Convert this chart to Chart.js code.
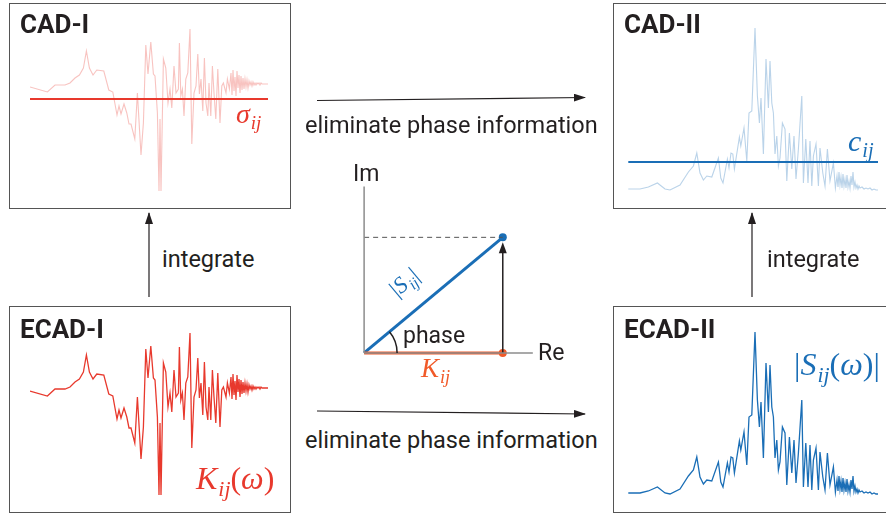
<!DOCTYPE html>
<html>
<head>
<meta charset="utf-8">
<script src="https://cdn.jsdelivr.net/npm/chart.js@4.4.1/dist/chart.umd.min.js"></script>
<style>
  body { margin: 0; background: #fff; }
  #page { position: relative; width: 886px; height: 516px; overflow: hidden; font-family: Roboto, sans-serif; color: #231f20; }
  .box { position: absolute; border: 1.5px solid #555; box-sizing: border-box; }
  .title { position: absolute; font-weight: 700; font-size: 26px; line-height: 1; }
  .plot { position: absolute; }
  .txt { position: absolute; font-size: 23.5px; line-height: 1; white-space: nowrap; }
  .math { position: absolute; font-family: "Liberation Serif", serif; font-style: italic; line-height: 1; white-space: nowrap; }
  .math sub { font-size: 68%; vertical-align: -0.3em; margin-left: 1px; }
  .up { font-style: normal; }
  svg { position: absolute; left: 0; top: 0; }
</style>
</head>
<body>
<div id="page">
  <div class="box" style="left:9px;top:3px;width:282px;height:206px"></div>
  <div class="box" style="left:9px;top:306px;width:282px;height:207px"></div>
  <div class="box" style="left:613px;top:3px;width:290px;height:206px"></div>
  <div class="box" style="left:613px;top:306px;width:290px;height:207px"></div>

  <canvas class="plot" id="cad1" width="240" height="205" style="left:30px;top:3px"></canvas>
  <canvas class="plot" id="ecad1" width="240" height="205" style="left:30px;top:307px"></canvas>
  <canvas class="plot" id="cad2" width="258" height="205" style="left:628px;top:3px"></canvas>
  <canvas class="plot" id="ecad2" width="258" height="205" style="left:628px;top:307px"></canvas>
  <canvas class="plot" id="phasor" width="208" height="208" style="left:341px;top:168px"></canvas>

  <div class="title" style="left:20px;top:11px">CAD-I</div>
  <div class="title" style="left:20px;top:316px">ECAD-I</div>
  <div class="title" style="left:624px;top:11px">CAD-II</div>
  <div class="title" style="left:624px;top:316px">ECAD-II</div>

  <div class="math" style="left:236px;top:100px;font-size:28px;color:#e8392d">σ<sub>ij</sub></div>
  <div class="math" style="left:196px;top:462px;font-size:32px;color:#e8392d">K<sub>ij</sub><span class="up">(</span>ω<span class="up">)</span></div>
  <div class="math" style="left:848px;top:126px;font-size:30px;color:#1a6eb6">c<sub>ij</sub></div>
  <div class="math" style="left:794px;top:348px;font-size:32px;color:#1a6eb6"><span class="up">|</span>S<sub>ij</sub><span class="up">(</span>ω<span class="up">)|</span></div>

  <div class="txt" style="left:305px;top:114px">eliminate phase information</div>
  <div class="txt" style="left:305px;top:429px">eliminate phase information</div>
  <div class="txt" style="left:162px;top:248px">integrate</div>
  <div class="txt" style="left:767px;top:248px">integrate</div>

  <div class="txt" style="left:353px;top:162px;font-size:23px">Im</div>
  <div class="txt" style="left:538px;top:341px;font-size:23px">Re</div>
  <div class="txt" style="left:403px;top:324px;font-size:23px">phase</div>
  <div class="math" style="left:421px;top:355px;font-size:27px;color:#f15a29">K<sub>ij</sub></div>
  <div class="math" style="left:390px;top:270px;font-size:23px;color:#1a6eb6;transform:rotate(-40deg);transform-origin:center"><span class="up">|</span>S<sub>ij</sub><span class="up">|</span></div>

  <svg width="886" height="516">
    <defs>
      <marker id="ah" viewBox="0 0 12 8" refX="11" refY="4" markerWidth="12" markerHeight="8" markerUnits="userSpaceOnUse" orient="auto">
        <path d="M0,0 L12,4 L0,8 z" fill="#231f20"/>
      </marker>
    </defs>
    <g stroke="#231f20" stroke-width="1.2" fill="none">
      <line x1="317" y1="100.5" x2="585" y2="97.5" marker-end="url(#ah)"/>
      <line x1="317" y1="411" x2="585" y2="414" marker-end="url(#ah)"/>
      <line x1="149" y1="297" x2="149" y2="213" marker-end="url(#ah)"/>
      <line x1="752" y1="297" x2="752" y2="213" marker-end="url(#ah)"/>
    </g>
  </svg>
</div>

<script>
// ECAD-I : real part K_ij(w)
const freqK = [0, 8.7, 12.5, 17.5, 20, 22.5, 24.7, 26.7, 28.2, 29.7, 31.5, 33.4, 36.9, 39.4, 41.4, 43.5, 44.5, 45.5, 47, 48.4,
  49.5, 50.5, 52.4, 53.7, 55.5, 56.7, 57.9, 59, 60.4, 61.7, 62.5, 63.7, 64.5, 65, 65.5, 66.7, 67.9, 69, 70, 70.9,
  72, 73, 74.2, 74.7, 75.4, 76.2, 77, 77.9, 78.9, 80, 80.9, 82, 83, 83.9, 84.7, 85.5, 86.4, 87.2, 88, 88.9,
  89.5, 90.4, 91.2, 92, 92.9, 93.9, 95, 95.9, 96.7, 98, 98.7, 99.7,
  100.5, 101, 101.5, 102, 102.5, 103, 103.5, 104, 104.5, 105, 105.5, 106, 106.5, 107, 107.5, 108, 108.5, 109,
  109.5, 110, 110.5, 111, 111.5, 112, 112.5, 113, 113.5, 114, 114.5, 115, 115.5, 116, 116.5, 117, 118, 119];
const kij = [-0.2, -0.7, 0.0, 0.0, 0.2, 0.7, 1.0, 1.7, 3.4, 1.7, 1.0, 1.5, 1.4, -0.5, -0.7, -3.0, -2.1, -2.9, -1.9, -2.8,
  -3.9, -3.9, -5.4, -0.8, -7.0, -3.8, 4.0, 1.1, 4.3, 1.1, 0.9, -2.8, -10.6, -3.4, -10.6, 2.6, 1.7, -1.8, -0.4, -2.3,
  1.9, -0.8, -0.4, 4.2, -1.1, -0.4, -3.1, 0.6, 1.2, 5.6, -5.9, -0.8, -0.1, 3.1, -0.9, 0.6, -2.6, 2.7, -1.8, -3.1,
  0.2, -3.1, 1.9, -0.8, -3.4, 1.6, -3.8, -0.1, 0.2, -0.8, 0.6, -0.4,
  1.2, -1.0, 1.5, -0.6, 0.8, -1.1, 1.4, -0.3, 1.0, -0.8, 0.9, -0.5, 0.7, -0.4, 0.6, -0.2, 0.5, -0.3,
  0.4, 0.0, 0.3, -0.1, 0.3, 0.0, 0.2, 0.0, 0.2, 0.1, 0.2, 0.0, 0.2, 0.1, 0.1, 0.1, 0.1, 0.1];
const sigmaIJ = -1.4;

// ECAD-II : magnitude |S_ij(w)|
const freqS = [0.15, 6, 10.2, 14.7, 18.5, 21, 26, 30.2, 32.7, 34.4, 36, 37.7, 39.4, 41.9, 45.2, 46.4, 47.5, 49.7, 50.5, 51.5,
  52.4, 53.2, 55.7, 56.4, 58, 59.4, 60.5, 61.9, 63.5, 64.7, 65.7, 66.5, 67.7, 69, 70.2, 71, 71.9, 72.7, 73.5, 74.4,
  75.2, 76, 77.2, 78.5, 79.4, 80.7, 81.9, 83, 84, 85.2, 86, 86.9, 87.7, 88.9, 90, 91, 91.9, 92.7, 94, 95.2,
  96, 97.4, 98.5, 99.7, 101, 102.7, 103.7,
  104.5, 105, 105.5, 106, 106.5, 107, 107.5, 108, 108.5, 109, 109.5, 110, 110.5, 111, 111.5, 112, 112.5, 113,
  113.5, 114, 114.5, 115, 115.5, 116, 117, 118, 119, 120, 121, 122, 123, 124, 125];
const sij = [0.2, 0.2, 0.4, 0.8, 0.2, 0.1, 0.6, 1.9, 2.5, 3.8, 1.8, 1.1, 1.5, 1.4, 3.3, 1.3, 0.8, 3.2, 2.3, 3.8,
  3.7, 2.2, 5.4, 4.5, 6.3, 3.0, 7.8, 8.0, 16.3, 9.5, 6.8, 9.3, 3.7, 13.2, 8.3, 13.0, 8.8, 7.8, 3.7, 5.5,
  2.5, 3.3, 6.8, 6.2, 1.0, 5.8, 2.2, 5.5, 1.2, 4.2, 6.7, 9.5, 0.8, 5.2, 0.8, 5.0, 0.5, 3.5, 4.7, 0.5,
  4.3, 1.8, 0.5, 4.2, 1.0, 2.8, 0.3,
  1.5, 0.4, 1.9, 0.6, 1.4, 0.3, 1.7, 0.5, 1.2, 0.3, 1.6, 0.4, 1.0, 0.3, 1.5, 0.6, 1.9, 0.4,
  0.9, 0.3, 0.6, 0.2, 0.5, 0.3, 0.4, 0.2, 0.3, 0.2, 0.3, 0.1, 0.2, 0.1, 0.1];
const cIJ = 2.9;

// phasor: Re = K_ij, Im part, axis lengths
const phasorRe = 1.2;
const phasorIm = 1.0;
const axisRe = 1.46;
const axisIm = 1.44;

const RED = "#e8392d";
const BLUE = "#1a6eb6";
const ORANGE = "#f15a29";

function xy(xs, ys) {
  return xs.map((x, i) => ({ x: x, y: ys[i] }));
}

function waveChart(id, xs, ys, color, width, level, levelColor, xMax, yMin, yMax) {
  const sets = [{
    data: xy(xs, ys),
    borderColor: color,
    borderWidth: width,
    pointRadius: 0,
    tension: 0,
    clip: false,
  }];
  if (level !== null) {
    sets.push({
      data: [{ x: xs[0], y: level }, { x: xs[xs.length - 1], y: level }],
      borderColor: levelColor,
      borderWidth: 2.2,
      pointRadius: 0,
      clip: false,
    });
  }
  return new Chart(document.getElementById(id), {
    type: "line",
    data: { datasets: sets },
    options: {
      responsive: false,
      animation: false,
      layout: { padding: 0, autoPadding: false },
      plugins: { legend: { display: false }, tooltip: { enabled: false } },
      scales: {
        x: { type: "linear", display: false, min: 0, max: xMax },
        y: { display: false, min: yMin, max: yMax },
      },
    },
  });
}

waveChart("ecad1", freqK, kij, RED, 1.3, null, null, 120, -12.3, 8.2);
waveChart("cad1", freqK, kij, "rgba(232,57,45,0.3)", 1.1, sigmaIJ, RED, 120, -12.3, 8.2);
waveChart("ecad2", freqS, sij, BLUE, 1.3, null, null, 129, -1.7, 18.8);
waveChart("cad2", freqS, sij, "rgba(26,110,182,0.3)", 1.1, cIJ, BLUE, 129, -1.7, 18.8);

// arc for the phase angle and arrow head on the imaginary component
const phasorExtras = {
  id: "phasorExtras",
  afterDatasetsDraw(chart) {
    const { ctx, scales } = chart;
    const ox = scales.x.getPixelForValue(0);
    const oy = scales.y.getPixelForValue(0);
    const ang = Math.atan2(phasorIm, phasorRe);
    ctx.save();
    ctx.strokeStyle = "#231f20";
    ctx.lineWidth = 1.5;
    ctx.beginPath();
    ctx.arc(ox, oy, 33, -ang, 0);
    ctx.stroke();
    const ax = scales.x.getPixelForValue(phasorRe);
    const tip = scales.y.getPixelForValue(phasorIm) + 5;
    ctx.fillStyle = "#231f20";
    ctx.beginPath();
    ctx.moveTo(ax, tip);
    ctx.lineTo(ax - 4, tip + 11);
    ctx.lineTo(ax + 4, tip + 11);
    ctx.closePath();
    ctx.fill();
    ctx.restore();
  },
};

new Chart(document.getElementById("phasor"), {
  type: "scatter",
  data: {
    datasets: [
      { data: [{ x: 0, y: 0 }, { x: axisRe, y: 0 }], showLine: true, borderColor: "#8c8c8c", borderWidth: 1.5, pointRadius: 0, clip: false },
      { data: [{ x: 0, y: 0 }, { x: 0, y: axisIm }], showLine: true, borderColor: "#8c8c8c", borderWidth: 1.5, pointRadius: 0, clip: false },
      { data: [{ x: 0, y: phasorIm }, { x: phasorRe, y: phasorIm }], showLine: true, borderColor: "#555", borderWidth: 1, borderDash: [5, 4], pointRadius: 0, clip: false },
      { data: [{ x: phasorRe, y: 0 }, { x: phasorRe, y: phasorIm * 0.92 }], showLine: true, borderColor: "#231f20", borderWidth: 1.5, pointRadius: 0, clip: false },
      { data: [{ x: 0, y: 0 }, { x: phasorRe, y: 0 }], showLine: true, borderColor: ORANGE, borderWidth: 3, pointRadius: [0, 4], pointBackgroundColor: ORANGE, pointBorderWidth: 0, clip: false },
      { data: [{ x: 0, y: 0 }, { x: phasorRe, y: phasorIm }], showLine: true, borderColor: BLUE, borderWidth: 3, pointRadius: [0, 4], pointBackgroundColor: BLUE, pointBorderWidth: 0, clip: false },
    ],
  },
  options: {
    responsive: false,
    animation: false,
    layout: { padding: 0, autoPadding: false },
    plugins: { legend: { display: false }, tooltip: { enabled: false } },
    scales: {
      x: { type: "linear", display: false, min: -0.2, max: 1.6 },
      y: { display: false, min: -0.2, max: 1.6 },
    },
  },
  plugins: [phasorExtras],
});
</script>
</body>
</html>
